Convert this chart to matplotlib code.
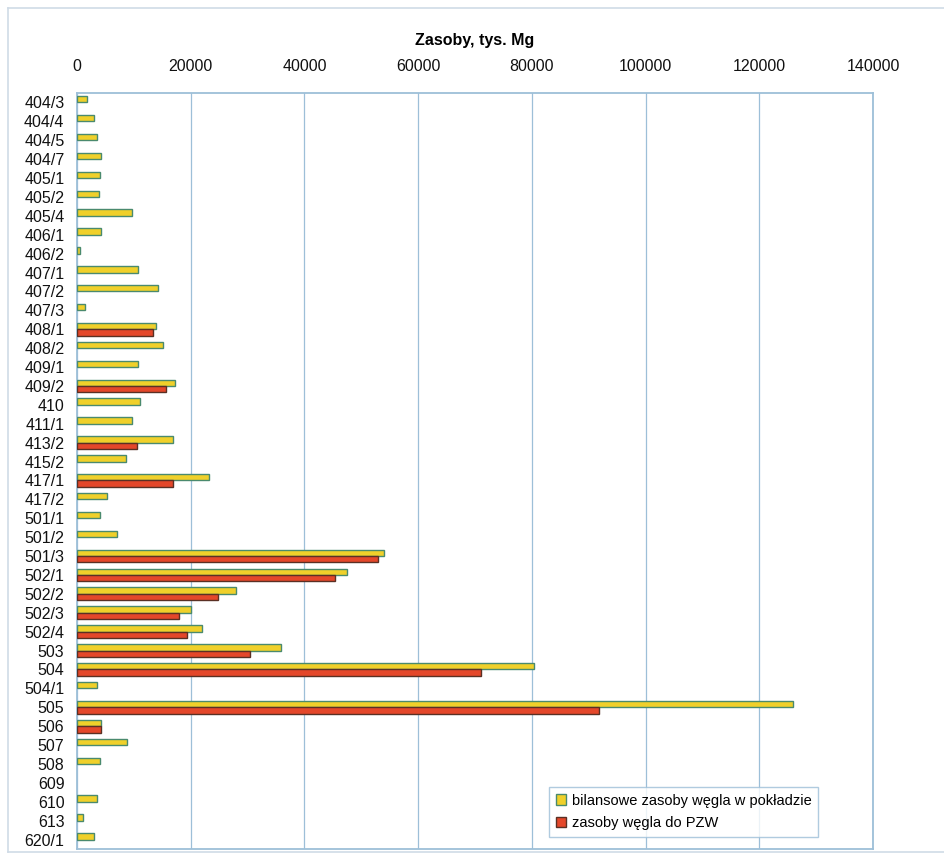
from matplotlib import pyplot as plt
from matplotlib.lines import Line2D
from matplotlib.patches import Patch
import numpy as np

plt.rcParams['font.family'] = ['Liberation Sans', 'DejaVu Sans']

# pokłady (seams), top to bottom as in the chart
seams = ['404/3', '404/4', '404/5', '404/7', '405/1', '405/2', '405/4', '406/1', '406/2',
         '407/1', '407/2', '407/3', '408/1', '408/2', '409/1', '409/2', '410', '411/1',
         '413/2', '415/2', '417/1', '417/2', '501/1', '501/2', '501/3', '502/1', '502/2',
         '502/3', '502/4', '503', '504', '504/1', '505', '506', '507', '508', '609', '610',
         '613', '620/1']

# bilansowe zasoby wegla w pokladzie, tys. Mg
bilansowe = [1800, 3000, 3600, 4300, 4000, 3900, 9700, 4300, 500,
             10800, 14200, 1400, 13900, 15200, 10800, 17200, 11100, 9700,
             16800, 8550, 23200, 5300, 4000, 7100, 54000, 47500, 27900,
             20100, 21900, 35900, 80400, 3600, 125900, 4150, 8850, 4000, 0, 3600,
             1100, 3000]

# zasoby wegla do PZW, tys. Mg (0 = brak)
pzw = [0, 0, 0, 0, 0, 0, 0, 0, 0,
       0, 0, 0, 13300, 0, 0, 15600, 0, 0,
       10500, 0, 16800, 0, 0, 0, 52900, 45400, 24800,
       18000, 19300, 30400, 71000, 0, 91800, 4200, 0, 0, 0, 0,
       0, 0]

legend_labels = ['bilansowe zasoby węgla w pokładzie', 'zasoby węgla do PZW']

yellow = '#f0d02a'
yellow_edge = '#4a8a6e'
red = '#e4472a'
red_edge = '#5a3024'
blue_line = '#9dbfd8'

fig = plt.figure(figsize=(9.45, 8.58), dpi=100)
ax = fig.add_axes([77 / 945, 1 - 849 / 858, (873 - 77) / 945, (849 - 93) / 858])

y = np.arange(len(seams))
bil = np.array(bilansowe, dtype=float)
red_v = np.array(pzw, dtype=float)
h = 0.34

m1 = bil > 0
ax.barh(y[m1] - h / 2, bil[m1], height=h, color=yellow, edgecolor=yellow_edge, linewidth=1.0, zorder=3)
m2 = red_v > 0
ax.barh(y[m2] + h / 2, red_v[m2], height=h, color=red, edgecolor=red_edge, linewidth=1.0, zorder=3)

ax.set_ylim(len(seams) - 0.5, -0.5)
ax.set_yticks(y)
ax.set_yticklabels(seams, fontsize=11.5)
ax.set_xlim(0, 140000)
ax.set_xticks(np.arange(0, 140001, 20000))
ax.set_xticklabels([str(v) for v in range(0, 140001, 20000)], fontsize=11.5)
ax.xaxis.tick_top()
ax.xaxis.set_label_position('top')
ax.set_xlabel('Zasoby, tys. Mg', fontsize=11.5, fontweight='bold', labelpad=10)
ax.tick_params(axis='x', length=0, pad=14)
ax.tick_params(axis='y', length=0, pad=9)
for lab in ax.get_xticklabels() + ax.get_yticklabels():
    lab.set_color('#111111')

ax.grid(True, axis='x', color=blue_line, linewidth=0.9, zorder=0)
for s in ax.spines.values():
    s.set_color(blue_line)
    s.set_linewidth(1.3)

handles = [Patch(facecolor=yellow, edgecolor=yellow_edge), Patch(facecolor=red, edgecolor=red_edge)]
leg = ax.legend(handles, legend_labels, loc='lower left', bbox_to_anchor=(0.593, 0.016),
                fontsize=10.5, frameon=True, fancybox=False, handlelength=0.7, handleheight=0.7,
                handletextpad=0.4, borderpad=0.45, labelspacing=0.6, borderaxespad=0)
leg.get_frame().set_edgecolor(blue_line)
leg.get_frame().set_linewidth(1.0)

# outer chart frame (light)
fc = '#cfdbe6'
fig.add_artist(Line2D([8 / 945, 8 / 945], [1 - 852 / 858, 1 - 8 / 858], color=fc, lw=1.2))
fig.add_artist(Line2D([8 / 945, 1.0], [1 - 8 / 858, 1 - 8 / 858], color=fc, lw=1.2))
fig.add_artist(Line2D([8 / 945, 1.0], [1 - 852 / 858, 1 - 852 / 858], color=fc, lw=1.2))

plt.savefig('out.png', dpi=100)
